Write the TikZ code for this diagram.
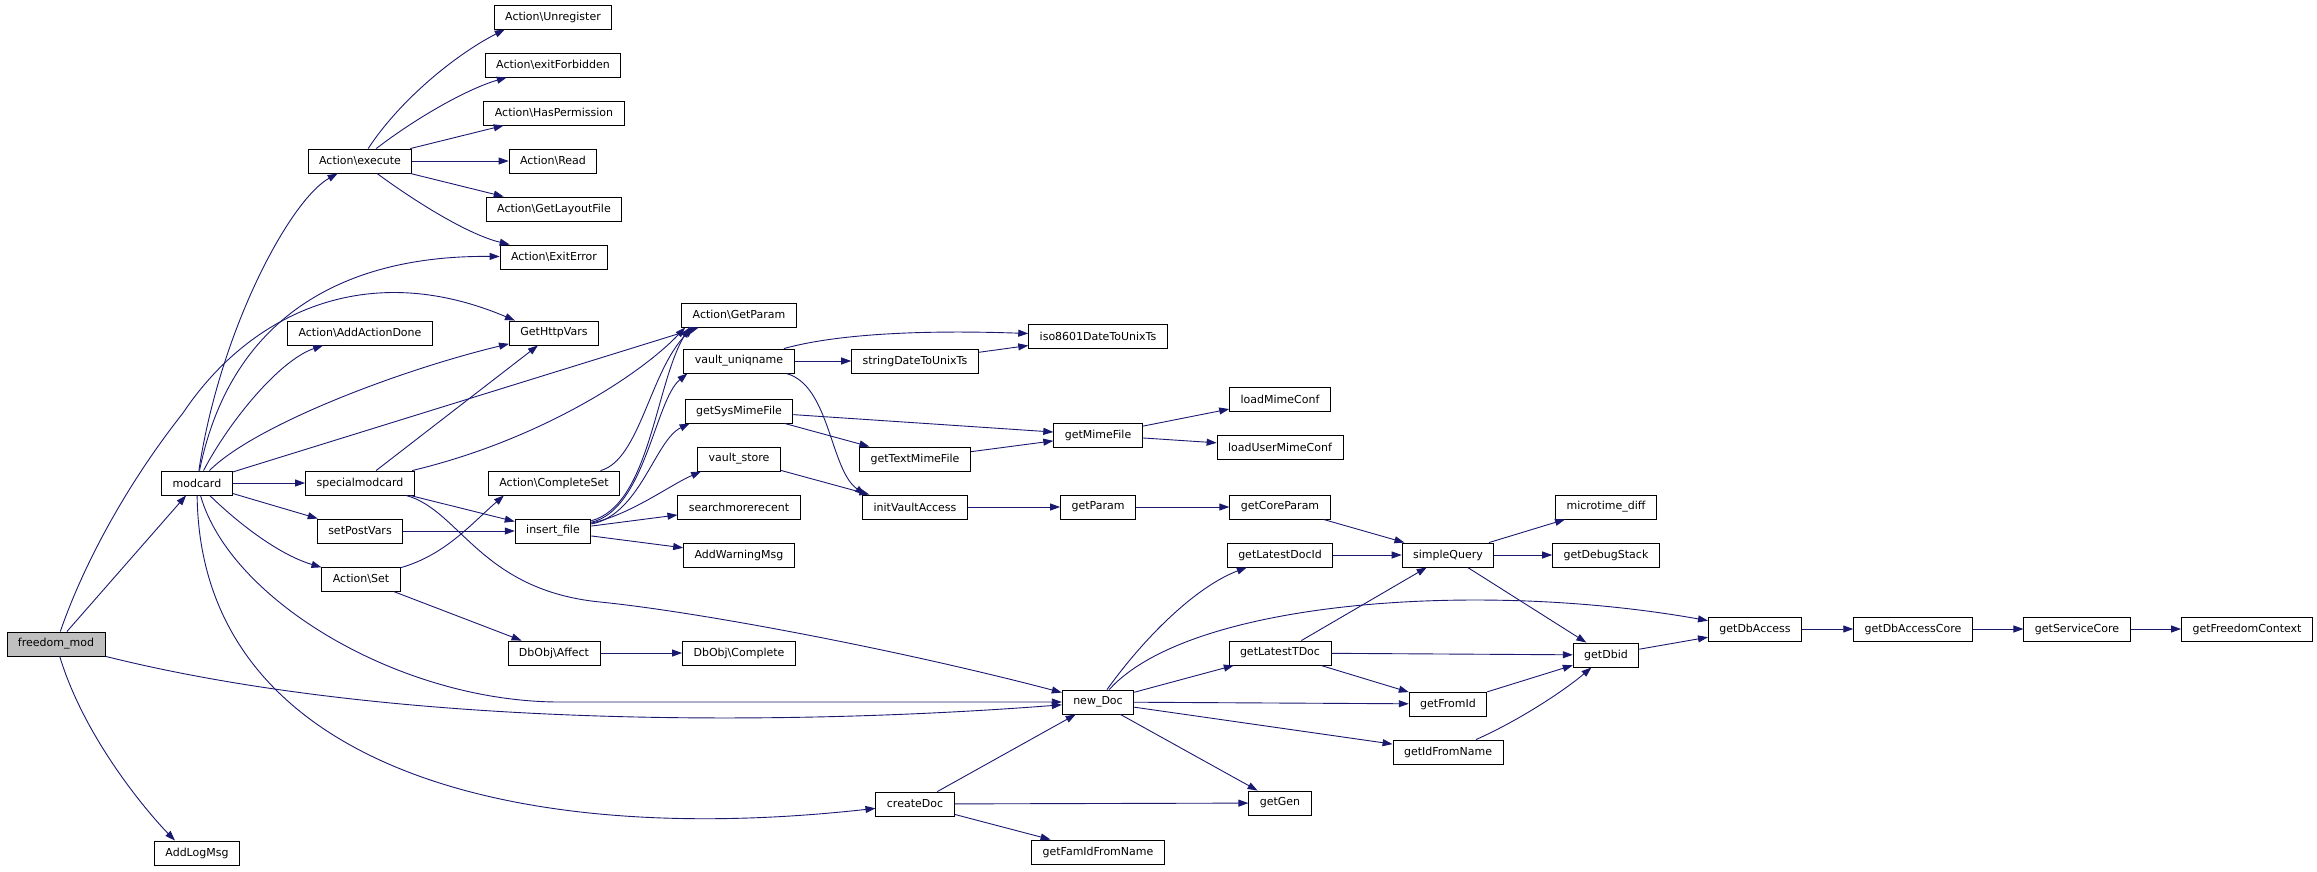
\documentclass[tikz,border=0pt]{standalone}
\usepackage{fontspec}
\setmainfont{DejaVu Sans}
\usepackage{tikz}
\usetikzlibrary{arrows.meta}
\definecolor{edgeblue}{HTML}{191970}
\definecolor{rootgray}{HTML}{BFBFBF}

\begin{document}
\begin{tikzpicture}[
    x=1pt, y=-1pt,
    every node/.style={draw=black, fill=white, line width=0.9pt, minimum height=24pt,
        inner xsep=11pt, inner ysep=0pt, font=\fontsize{11}{13}\selectfont},
    call/.style={draw=edgeblue, line width=0.9pt, -{Triangle[length=10pt,width=7pt]}}
]
\useasboundingbox (0,0) rectangle (2317,871);

\node (fm) [fill=rootgray] at (56,644) {freedom\_mod};
\node (modcard) at (197,483) {modcard};
\node (addlog) at (197,853) {AddLogMsg};

\node (exec) at (360,161) {Action\textbackslash execute};
\node (addact) at (360,333) {Action\textbackslash AddActionDone};
\node (special) at (360,483) {specialmodcard};
\node (setpost) at (360,531) {setPostVars};
\node (actset) at (361,579) {Action\textbackslash Set};

\node (unreg) at (553,17) {Action\textbackslash Unregister};
\node (forbid) at (553,65) {Action\textbackslash exitForbidden};
\node (hasperm) at (554,113) {Action\textbackslash HasPermission};
\node (read) at (553,161) {Action\textbackslash Read};
\node (layout) at (554,209) {Action\textbackslash GetLayoutFile};
\node (exiterr) at (554,257) {Action\textbackslash ExitError};
\node (httpvars) at (554,333) {GetHttpVars};
\node (complete) at (554,483) {Action\textbackslash CompleteSet};
\node (insert) at (553,531) {insert\_file};
\node (affect) at (554,653) {DbObj\textbackslash Affect};

\node (actparam) at (739,315) {Action\textbackslash GetParam};
\node (uniq) at (739,361) {vault\_uniqname};
\node (sysmime) at (739,411) {getSysMimeFile};
\node (store) at (739,459) {vault\_store};
\node (search) at (739,507) {searchmorerecent};
\node (warn) at (739,555) {AddWarningMsg};
\node (dbcomplete) at (739,653) {DbObj\textbackslash Complete};

\node (strdate) at (915,361) {stringDateToUnixTs};
\node (textmime) at (915,459) {getTextMimeFile};
\node (initvault) at (915,507) {initVaultAccess};
\node (createdoc) at (915,804) {createDoc};

\node (iso) at (1098,336) {iso8601DateToUnixTs};
\node (mimefile) at (1098,435) {getMimeFile};
\node (getparam) at (1098,507) {getParam};
\node (newdoc) at (1098,702) {new\_Doc};
\node (famid) at (1098,852) {getFamIdFromName};

\node (loadmime) at (1280,399) {loadMimeConf};
\node (loadumime) at (1280,447) {loadUserMimeConf};
\node (coreparam) at (1280,507) {getCoreParam};
\node (latestid) at (1280,555) {getLatestDocId};
\node (latesttdoc) at (1280,653) {getLatestTDoc};
\node (getgen) at (1280,803) {getGen};

\node (query) at (1448,555) {simpleQuery};
\node (fromid) at (1448,704) {getFromId};
\node (idfromname) at (1448,752) {getIdFromName};

\node (microtime) at (1606,507) {microtime\_diff};
\node (debugstack) at (1606,555) {getDebugStack};
\node (dbid) at (1606,655) {getDbid};

\node (dbaccess) at (1755,629) {getDbAccess};
\node (dbcore) at (1913,629) {getDbAccessCore};
\node (servcore) at (2077,629) {getServiceCore};
\node (context) at (2247,629) {getFreedomContext};

% calls from freedom_mod
\draw[call] (fm) -- (modcard);
\draw[call] (fm) .. controls (85,560) and (130,480) .. (183,413)
    .. controls (245,320) and (360,255) .. ([xshift=6pt]httpvars.north west);
\draw[call] (fm) .. controls (400,730) and (800,725) .. (newdoc);
\draw[call] (fm) .. controls (85,740) and (150,815) .. ([xshift=-22pt]addlog.north);

% modcard
\draw[call] (modcard) .. controls (220,330) and (290,200) .. (exec);
\draw[call] (modcard) .. controls (230,320) and (340,255) .. (exiterr);
\draw[call] (modcard) .. controls (230,420) and (280,360) .. (addact);
\draw[call] (modcard) .. controls (255,425) and (400,370) .. (httpvars);
\draw[call] (modcard) -- (actparam);
\draw[call] (modcard) -- (special);
\draw[call] (modcard) -- (setpost);
\draw[call] (modcard) .. controls (240,525) and (280,555) .. (actset);
\draw[call] (modcard) .. controls (230,600) and (400,702) .. (560,702) -- (newdoc);
\draw[call] (modcard) .. controls (200,760) and (500,850) .. (createdoc);

% Action\execute
\draw[call] (exec) .. controls (400,100) and (455,55) .. ([xshift=11pt]unreg.south west);
\draw[call] (exec) .. controls (420,115) and (470,88) .. ([xshift=22pt]forbid.south west);
\draw[call] (exec) -- (hasperm);
\draw[call] (exec) -- (read);
\draw[call] (exec) -- (layout);
\draw[call] (exec) .. controls (420,205) and (470,235) .. ([xshift=10pt]exiterr.north west);

% specialmodcard, setPostVars, Action\Set
\draw[call] (special) -- (httpvars);
\draw[call] (special) .. controls (540,440) and (640,375) .. ([xshift=4pt]actparam.south west);
\draw[call] (special) -- (insert);
\draw[call] (special) .. controls (460,510) and (480,590) .. (600,602)
    .. controls (700,612) and (900,650) .. (newdoc);
\draw[call] (setpost) -- (insert);
\draw[call] (actset) .. controls (445,555) and (470,525) .. ([xshift=16pt]complete.south west);
\draw[call] (actset) -- (affect);
\draw[call] (affect) -- (dbcomplete);
\draw[call] (complete) .. controls (640,460) and (650,370) .. ([xshift=12pt]actparam.south west);

% insert_file
\draw[call] (insert) .. controls (650,505) and (655,385) .. ([xshift=8pt]actparam.south west);
\draw[call] (insert) .. controls (645,510) and (655,400) .. ([xshift=4pt]uniq.south west);
\draw[call] (insert) .. controls (640,515) and (655,440) .. ([xshift=5pt]sysmime.south west);
\draw[call] (insert) .. controls (630,515) and (670,485) .. ([xshift=4pt]store.south west);
\draw[call] (insert) -- (search);
\draw[call] (insert) -- (warn);

% vault and mime
\draw[call] (uniq) .. controls (840,333) and (930,330) .. (iso);
\draw[call] (uniq) -- (strdate);
\draw[call] (uniq) .. controls (830,385) and (830,470) .. ([xshift=3pt]initvault.north west);
\draw[call] (strdate) -- (iso);
\draw[call] (sysmime) -- (mimefile);
\draw[call] (sysmime) -- (textmime);
\draw[call] (textmime) -- (mimefile);
\draw[call] (store) -- (initvault);
\draw[call] (initvault) -- (getparam);
\draw[call] (mimefile) -- (loadmime);
\draw[call] (mimefile) -- (loadumime);
\draw[call] (getparam) -- (coreparam);

% queries
\draw[call] (coreparam) -- (query);
\draw[call] (latestid) -- (query);
\draw[call] (query) -- (microtime);
\draw[call] (query) -- (debugstack);
\draw[call] (query) -- (dbid);
\draw[call] (latesttdoc) -- (query);
\draw[call] (latesttdoc) -- (dbid);
\draw[call] (latesttdoc) -- (fromid);
\draw[call] (fromid) -- (dbid);
\draw[call] (idfromname) .. controls (1520,720) and (1565,690) .. (dbid);
\draw[call] (dbid) -- (dbaccess);
\draw[call] (dbaccess) -- (dbcore);
\draw[call] (dbcore) -- (servcore);
\draw[call] (servcore) -- (context);

% new_Doc and createDoc
\draw[call] (newdoc) .. controls (1150,630) and (1200,585) .. (latestid);
\draw[call] (newdoc) .. controls (1190,600) and (1480,580) .. (dbaccess);
\draw[call] (newdoc) -- (latesttdoc);
\draw[call] (newdoc) -- (fromid);
\draw[call] (newdoc) -- (idfromname);
\draw[call] (newdoc) -- (getgen);
\draw[call] (createdoc) -- (newdoc);
\draw[call] (createdoc) -- (getgen);
\draw[call] (createdoc) -- (famid);

\end{tikzpicture}
\end{document}
